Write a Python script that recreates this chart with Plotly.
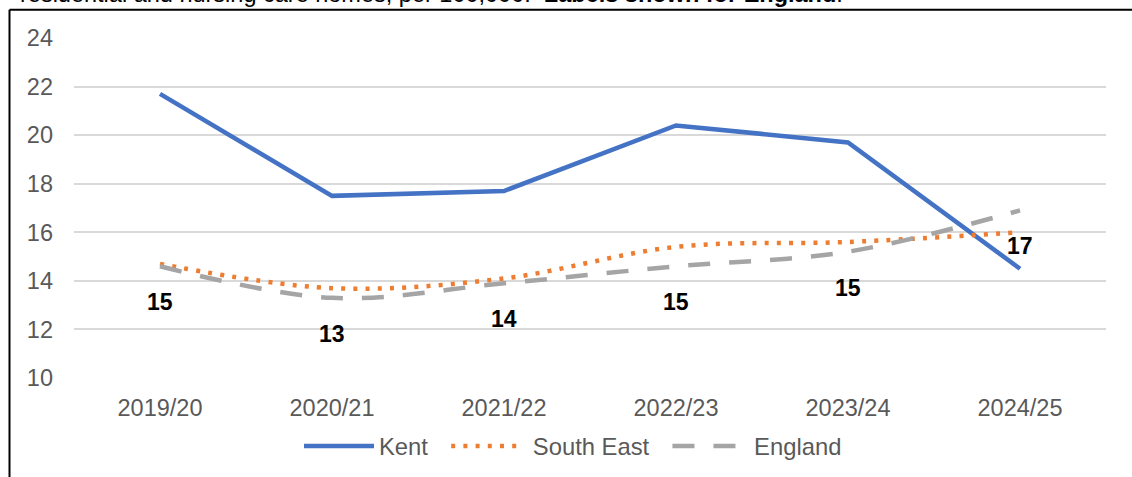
import plotly.graph_objects as go

# Rate per 100,000 by financial year
years = ["2019/20", "2020/21", "2021/22", "2022/23", "2023/24", "2024/25"]
kent = [21.7, 17.5, 17.7, 20.4, 19.7, 14.5]
south_east = [14.7, 13.7, 14.1, 15.4, 15.6, 16.0]
england = [14.6, 13.3, 13.9, 14.6, 15.2, 16.9]
y_ticks = [10, 12, 14, 16, 18, 20, 22, 24]

FONT = "Liberation Sans, Arial, sans-serif"
GREY_TEXT = "#595959"
NB = "&nbsp;"

# Plot-area geometry in pixels (used to place the frame, caption and legend)
W, H = 1132, 477
ML, MR, MT, MB = 74, 26, 38, 99
PW, PH = W - ML - MR, H - MT - MB


def px_x(px):
    return (px - ML) / PW


def px_y(py):
    return (H - MB - py) / PH


fig = go.Figure()

fig.add_trace(go.Scatter(
    x=years, y=kent, name="Kent" + NB * 2, mode="lines",
    line=dict(color="#4472C4", width=4.5),
))
fig.add_trace(go.Scatter(
    x=years, y=south_east, name=NB + "South East" + NB * 2, mode="lines",
    line=dict(color="#ED7D31", width=4.5, dash="4px,8.2px",
              shape="spline", smoothing=1),
))
fig.add_trace(go.Scatter(
    x=years, y=england, name=NB + "England", mode="lines",
    line=dict(color="#A5A5A5", width=4.5, dash="22px,19px",
              shape="spline", smoothing=1),
))

# Rounded value labels for England, below each point
for yr, v in zip(years, england):
    fig.add_annotation(
        x=yr, y=v, xref="x", yref="y", text=f"<b>{v:.0f}</b>",
        showarrow=False, yshift=-36,
        font=dict(family=FONT, size=23, color="#000000"),
    )

# Caption line running above the frame
fig.add_annotation(
    xref="paper", yref="paper", x=px_x(845), y=px_y(8.5),
    xanchor="right", yanchor="bottom", showarrow=False,
    text="residential and nursing care homes, per 100,000.&nbsp;&nbsp;"
         "<b>Labels shown for England</b>.",
    font=dict(family=FONT, size=23.5, color="#000000"),
)

# Chart frame (top and left edges)
frame = dict(color="#000000", width=2)
fig.add_shape(type="line", xref="paper", yref="paper",
              x0=px_x(9.5), x1=px_x(1140), y0=px_y(9.7), y1=px_y(9.7), line=frame)
fig.add_shape(type="line", xref="paper", yref="paper",
              x0=px_x(9.5), x1=px_x(9.5), y0=px_y(9.7), y1=px_y(490), line=frame)

fig.update_layout(
    width=W, height=H,
    margin=dict(l=ML, r=MR, t=MT, b=MB, autoexpand=False),
    paper_bgcolor="white", plot_bgcolor="white",
    font=dict(family=FONT, size=23, color=GREY_TEXT),
    showlegend=True,
    legend=dict(
        orientation="h", x=px_x(573), xanchor="center",
        y=px_y(446), yanchor="middle",
        font=dict(family=FONT, size=23.8, color=GREY_TEXT),
        itemwidth=70, bgcolor="rgba(0,0,0,0)",
    ),
    xaxis=dict(
        type="category", range=[-0.5, 5.5],
        showgrid=False, showline=False, zeroline=False,
        ticks="", ticklabelstandoff=13,
        tickfont=dict(family=FONT, size=23.5, color=GREY_TEXT),
    ),
    yaxis=dict(
        range=[10, 24], tickvals=y_ticks,
        showgrid=True, gridcolor="#D9D9D9", gridwidth=1.6,
        zeroline=False, showline=False, ticks="", ticklabelstandoff=20,
        tickfont=dict(family=FONT, size=23.5, color=GREY_TEXT),
    ),
)

fig.write_html("out.html")
